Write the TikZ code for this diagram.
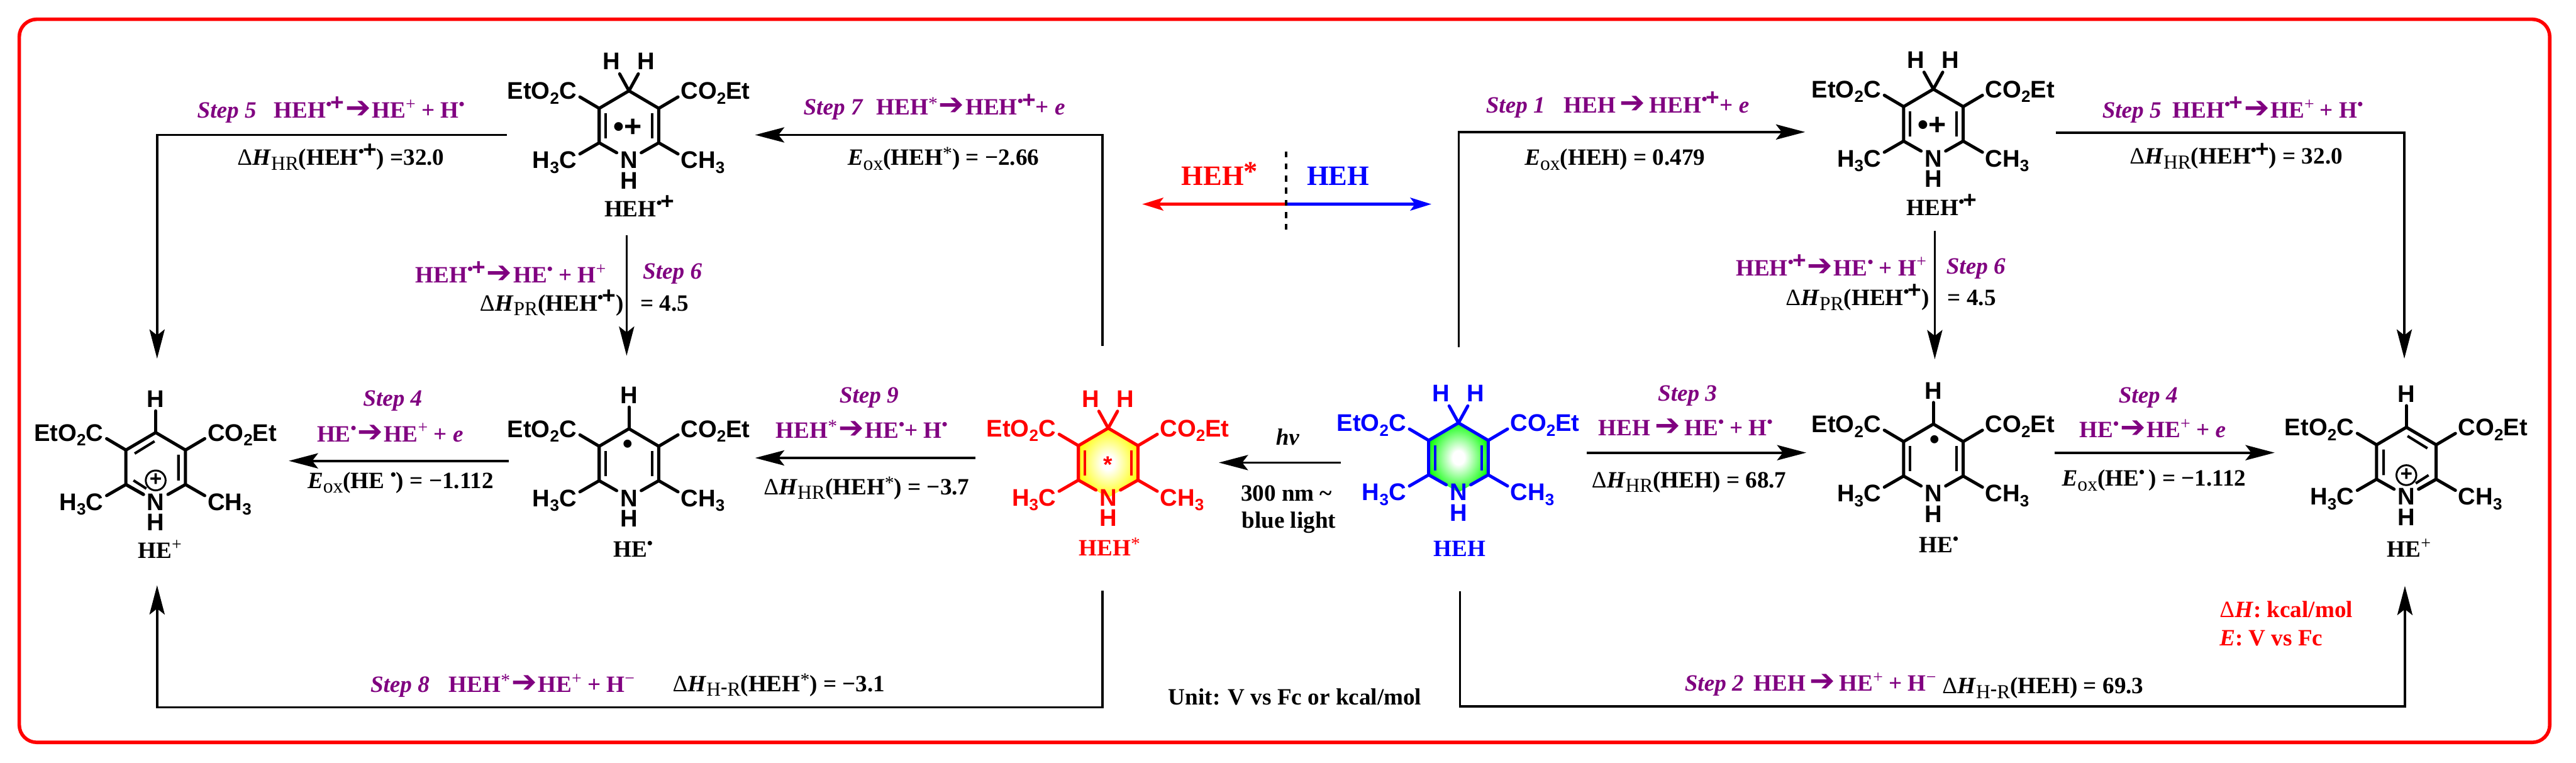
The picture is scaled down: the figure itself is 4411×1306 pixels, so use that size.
\documentclass[tikz,border=0pt]{standalone}
\usepackage{fontspec}
\setmainfont{Liberation Serif}
\setsansfont{Liberation Sans}
\newfontfamily\djv{DejaVu Sans}
\usetikzlibrary{arrows.meta}
\definecolor{hpurple}{RGB}{128,0,128}
\pgfdeclareradialshading{hehy}{\pgfpoint{0bp}{0bp}}{color(0bp)=(white); color(5bp)=(white); color(27bp)=(yellow); color(50bp)=(yellow)}
\pgfdeclareradialshading{hehg}{\pgfpoint{0bp}{0bp}}{color(0bp)=(white); color(5bp)=(white); color(27bp)=(green); color(50bp)=(green)}
% inline text pieces
\newcommand{\rx}{\kern.5pt{\djv\mdseries\fontsize{13}{13}\selectfont ➔}\kern.5pt}
\newcommand{\rxw}{\kern1.8pt{\djv\mdseries\fontsize{13}{13}\selectfont ➔}\kern1.8pt}
\newcommand{\rdt}{\raisebox{3.5pt}{\fontsize{7}{7}\selectfont •}}
\newcommand{\rc}{\raisebox{3.5pt}{\fontsize{7}{7}\selectfont •}\kern-.5pt\raisebox{3.2pt}{\sffamily\bfseries\fontsize{10}{10}\selectfont +}}
\newcommand{\pup}{\raisebox{3.6pt}{\mdseries\fontsize{7.5}{7.5}\selectfont +}}
\newcommand{\mnu}{\raisebox{3.6pt}{\mdseries\fontsize{7.5}{7.5}\selectfont −}}
\newcommand{\sta}{\raisebox{2.4pt}{\mdseries\fontsize{8}{8}\selectfont *}}
\newcommand{\sbs}[1]{\raisebox{-2pt}{\mdseries\fontsize{8.5}{8.5}\selectfont #1}}
\newcommand{\dH}{{\mdseries Δ}\textit{H}}
\newcommand{\Eox}{\textit{E}\sbs{ox}}
\newcommand{\HmR}{\sbs{H\raisebox{1.2pt}{\bfseries -}R}}
\newcommand{\stp}[1]{\textit{Step #1}}
\newcommand{\asub}[1]{\raisebox{-2pt}{\fontsize{7}{7}\selectfont #1}}
\tikzset{
  conn/.style={line width=1pt,-{Stealth[length=12.5pt,width=6.5pt,inset=2.5pt]}},
  plainline/.style={line width=1pt},
  modearrow/.style={line width=1.25pt,-{Stealth[length=9pt,width=5.5pt,inset=2pt]}},
  bond/.style={line width=1.35pt,line cap=round,line join=miter},
  inner bond/.style={line width=1.1pt},
  lbl/.style={anchor=base west,inner sep=0pt,font=\fontsize{10}{12}\selectfont\bfseries},
  plbl/.style={lbl,text=hpurple},
  molname/.style={anchor=base,inner sep=0pt,font=\fontsize{10}{12}\selectfont\bfseries},
  atom/.style={inner sep=0pt,font=\sffamily\bfseries\fontsize{10.3}{12}\selectfont},
  big/.style={lbl,font=\fontsize{12}{14}\selectfont\bfseries},
}
\newcommand{\molbody}[1]{%
  \draw[bond] (-21,106)--(-51,89)--(-51,30)--(0,0)--(51,30)--(51,89)--(21,106);
  \draw[bond] (-51,30)--(-84,10.5) (-51,89)--(-84,108) (51,30)--(84,10.5) (51,89)--(84,108);
  \node[atom,anchor=base east] (#1-eto) at (-89,14.5) {EtO\asub{2}C};
  \node[atom,anchor=base west] (#1-coe) at (88,14.5) {CO\asub{2}Et};
  \node[atom,anchor=base east] (#1-hc) at (-89,133) {H\asub{3}C};
  \node[atom,anchor=base west] (#1-ch) at (88,133) {CH\asub{3}};
  \node[atom,anchor=base] (#1-n) at (0,133) {N};
  \node[atom,anchor=base] (#1-nh) at (0,168) {H};
}
\newcommand{\twoH}[1]{%
  \draw[bond] (0,0)--(-16,-29) (0,0)--(16,-29);
  \node[atom,anchor=base] (#1-ha) at (-30,-36) {H};
  \node[atom,anchor=base] (#1-hb) at (29,-36) {H};
}
\newcommand{\oneH}[1]{%
  \draw[bond] (0,0)--(0,-37);
  \node[atom,anchor=base] (#1-ha) at (0,-43) {H};
}
\newcommand{\innerv}{\draw[inner bond] (-40,38)--(-40,81) (40,38)--(40,81);}
\newcommand{\pyrid}[1]{% pyridinium ring
  \draw[inner bond] (-36,36)--(-2,15) (39,38)--(39,82) (-38,82)--(-16,96);
  \draw[bond] (-51,89)--(-21,106);
  \draw[line width=.8pt] (0,82) circle (17);
  \node[atom,font=\sffamily\bfseries\fontsize{9}{9}\selectfont] (#1-plus) at (0,81) {+};
}
\begin{document}
\begin{tikzpicture}[x=.25pt,y=-.25pt]
\useasboundingbox (0,0) rectangle (4411,1306);
\draw[red,line width=1.5pt,rounded corners=7.5pt] (33,33) rectangle (4366,1271);

% ---- molecules ----
\begin{scope}[shift={(1077,155.5)}]\molbody{ma}\twoH{ma}\innerv
  \node[atom,font=\sffamily\bfseries\fontsize{13}{13}\selectfont] (ma-r) at (-2,63) {•+};
\end{scope}
\begin{scope}[shift={(3310.6,152.6)}]\molbody{mb}\twoH{mb}\innerv
  \node[atom,font=\sffamily\bfseries\fontsize{13}{13}\selectfont] (mb-r) at (-2,63) {•+};
\end{scope}
\begin{scope}[shift={(1077,734)}]\molbody{mc}\oneH{mc}\innerv
  \node[atom,font=\sffamily\bfseries\fontsize{12}{12}\selectfont] (mc-r) at (-2,31) {•};
\end{scope}
\begin{scope}[shift={(3310.6,726)}]\molbody{md}\oneH{md}\innerv
  \node[atom,font=\sffamily\bfseries\fontsize{12}{12}\selectfont] (md-r) at (2,31) {•};
\end{scope}
\begin{scope}[shift={(266.6,740.5)}]\molbody{me}\oneH{me}\pyrid{me}\end{scope}
\begin{scope}[shift={(4120.5,731.5)}]\molbody{mf}\oneH{mf}
  \begin{scope}[xscale=-1]\pyrid{mf}\end{scope}
\end{scope}
\begin{scope}[shift={(1897.6,733)},color=red]
  \shade[shading=hehy] (0,0)--(-51,30)--(-51,89)--(0,119)--(51,89)--(51,30)--cycle;
  \molbody{mg}\twoH{mg}\innerv
  \node[atom,font=\sffamily\bfseries\fontsize{10}{10}\selectfont] (mg-r) at (0,62) {*};
\end{scope}
\begin{scope}[shift={(2497.4,724)},color=blue]
  \shade[shading=hehg] (0,0)--(-51,30)--(-51,89)--(0,119)--(51,89)--(51,30)--cycle;
  \molbody{mh}\twoH{mh}\innerv
\end{scope}

% ---- molecule names ----
\node[molname] (na) at (1095,371) {HEH\rc};
\node[molname] (nb) at (3325,369) {HEH\rc};
\node[molname] (nc) at (1084,954) {HE\rdt};
\node[molname] (nd) at (3320,946) {HE\rdt};
\node[molname] (ne) at (273.6,956) {HE\pup};
\node[molname] (nf) at (4125,954) {HE\pup};
\node[molname,text=red] (ng) at (1900,951) {HEH\sta};
\node[molname,text=blue] (nh) at (2499.5,952) {HEH};

% ---- connector end points ----
\coordinate (c5a) at (868,231);   \coordinate (c5b) at (269,231);   \coordinate (c5c) at (269,614);
\coordinate (c6a) at (1073,403);  \coordinate (c6b) at (1073,609);
\coordinate (c7a) at (1888,592);  \coordinate (c7b) at (1888,231);  \coordinate (c7c) at (1293,231);
\coordinate (c4a) at (871,789);   \coordinate (c4b) at (494.6,789);
\coordinate (c8a) at (1888,1011); \coordinate (c8b) at (1888,1211); \coordinate (c8c) at (269,1211); \coordinate (c8d) at (269,1002);
\coordinate (c9a) at (1670,784);  \coordinate (c9b) at (1293,784);
\coordinate (cha) at (2296,792);  \coordinate (chb) at (2087,792);
\coordinate (cm) at (2202,349.5); \coordinate (cr) at (1956,349.5); \coordinate (cb) at (2451,349.5);
\coordinate (cda) at (2202,259);  \coordinate (cdb) at (2202,393);
\coordinate (d1a) at (2498,594);  \coordinate (d1b) at (2498,226);  \coordinate (d1c) at (3091,226);
\coordinate (d3a) at (2717,775);  \coordinate (d3b) at (3093,775);
\coordinate (d2a) at (2500,1012); \coordinate (d2b) at (2500,1209); \coordinate (d2c) at (4118,1209); \coordinate (d2d) at (4118,1003);
\coordinate (d5a) at (3520,227);  \coordinate (d5b) at (4117,227);  \coordinate (d5c) at (4117,614);
\coordinate (d6a) at (3313,395);  \coordinate (d6b) at (3313,615);
\coordinate (d4a) at (3518,775);  \coordinate (d4b) at (3895,775);

% ---- connectors ----
\draw[conn] (c5a) -- (c5b) -- (c5c);
\draw[conn] (c6a) -- (c6b);
\draw[conn] (c7a) -- (c7b) -- (c7c);
\draw[conn] (c4a) -- (c4b);
\draw[conn] (c8a) -- (c8b) -- (c8c) -- (c8d);
\draw[conn] (c9a) -- (c9b);
\draw[conn] (cha) -- (chb);
\draw[modearrow,red] (cm) -- (cr);
\draw[modearrow,blue] (cm) -- (cb);
\draw[plainline,dash pattern=on 2.6pt off 2.6pt] (cda) -- (cdb);
\draw[conn] (d1a) -- (d1b) -- (d1c);
\draw[conn] (d3a) -- (d3b);
\draw[conn] (d2a) -- (d2b) -- (d2c) -- (d2d);
\draw[conn] (d5a) -- (d5b) -- (d5c);
\draw[conn] (d6a) -- (d6b);
\draw[conn] (d4a) -- (d4b);

% ---- text: upper left ----
\node[plbl] (t01) at (337,202) {\stp{5}};
\node[plbl] (t02) at (468.6,202) {HEH\rc\rx HE\pup{} + H\rdt};
\node[lbl] (t03) at (405.5,283) {\dH\sbs{HR}(HEH\rc) =32.0};
\node[plbl] (t04) at (710.6,484) {HEH\rc\rx HE\rdt{} + H\pup};
\node[lbl] (t05) at (820.8,532) {\dH\sbs{PR}(HEH\rc)};
\node[plbl] (t06) at (1100,478) {\stp{6}};
\node[lbl] (t07) at (1096,532) {= 4.5};
\node[plbl] (t08) at (1375,197) {\stp{7}};
\node[plbl] (t09) at (1500,197) {HEH\sta\rx HEH\rc+ \textit{e}};
\node[lbl] (t10) at (1450.8,283) {\Eox(HEH\sta) = −2.66};
% ---- mode labels ----
\node[big,text=red] (t11) at (2022.5,317) {HEH\raisebox{1.8pt}{\fontsize{12}{12}\selectfont *}};
\node[big,text=blue] (t12) at (2237,317) {HEH};
% ---- upper right ----
\node[plbl] (t13) at (2543.7,193) {\stp{1}};
\node[plbl] (t14) at (2677,193) {HEH\rxw HEH\rc+ \textit{e}};
\node[lbl] (t15) at (2610,283) {\Eox(HEH) = 0.479};
\node[plbl] (t16) at (3599,202) {\stp{5}};
\node[plbl] (t17) at (3719.5,202) {HEH\rc\rx HE\pup{} + H\rdt};
\node[lbl] (t18) at (3646,281) {\dH\sbs{HR}(HEH\rc) = 32.0};
\node[plbl] (t19) at (2971.7,472) {HEH\rc\rx HE\rdt{} + H\pup};
\node[lbl] (t20) at (3057,523) {\dH\sbs{PR}(HEH\rc)};
\node[plbl] (t21) at (3332,468.5) {\stp{6}};
\node[lbl] (t22) at (3334,523) {= 4.5};
% ---- middle row ----
\node[plbl] (t23) at (621,695.5) {\stp{4}};
\node[plbl] (t24) at (542,756) {HE\rdt\rx HE\pup{} + \textit{e}};
\node[lbl] (t25) at (526,836) {\Eox(HE \rdt) = −1.112};
\node[plbl] (t26) at (1436.7,690) {\stp{9}};
\node[plbl] (t27) at (1328,750) {HEH\sta\rx HE\rdt{}+ H\rdt};
\node[lbl] (t28) at (1307,847) {\dH\sbs{HR}(HEH\sta) = −3.7};
\node[lbl] (t29) at (2184,762) {\textit{hv}};
\node[lbl] (t30) at (2124,857.5) {300 nm \textasciitilde};
\node[lbl] (t31) at (2125.6,904) {blue light};
\node[plbl] (t32) at (2838,687) {\stp{3}};
\node[plbl] (t33) at (2736.6,746) {HEH\rxw HE\rdt{} + H\rdt};
\node[lbl] (t34) at (2724.7,835) {\dH\sbs{HR}(HEH) = 68.7};
\node[plbl] (t35) at (3627,690) {\stp{4}};
\node[plbl] (t36) at (3560,749.5) {HE\rdt\rx HE\pup{} + \textit{e}};
\node[lbl] (t37) at (3530,832) {\Eox(HE\rdt\,) = −1.112};
% ---- bottom row ----
\node[plbl] (t38) at (633.5,1185) {\stp{8}};
\node[plbl] (t39) at (768,1185) {HEH\sta\rx HE\pup{} + H\mnu};
\node[lbl] (t40) at (1151,1184) {\dH\HmR(HEH\sta) = −3.1};
\node[lbl] (t41) at (2000,1207) {Unit: V vs Fc or kcal/mol};
\node[plbl] (t42) at (2884,1183) {\stp{2}};
\node[plbl] (t43) at (3002,1183) {HEH\rxw HE\pup{} + H\mnu};
\node[lbl] (t44) at (3325,1187.6) {\dH\HmR(HEH) = 69.3};
\node[lbl,text=red] (t45) at (3800,1057) {\dH: kcal/mol};
\node[lbl,text=red] (t46) at (3800,1105) {\textit{E}: V vs Fc};
\end{tikzpicture}
\end{document}
